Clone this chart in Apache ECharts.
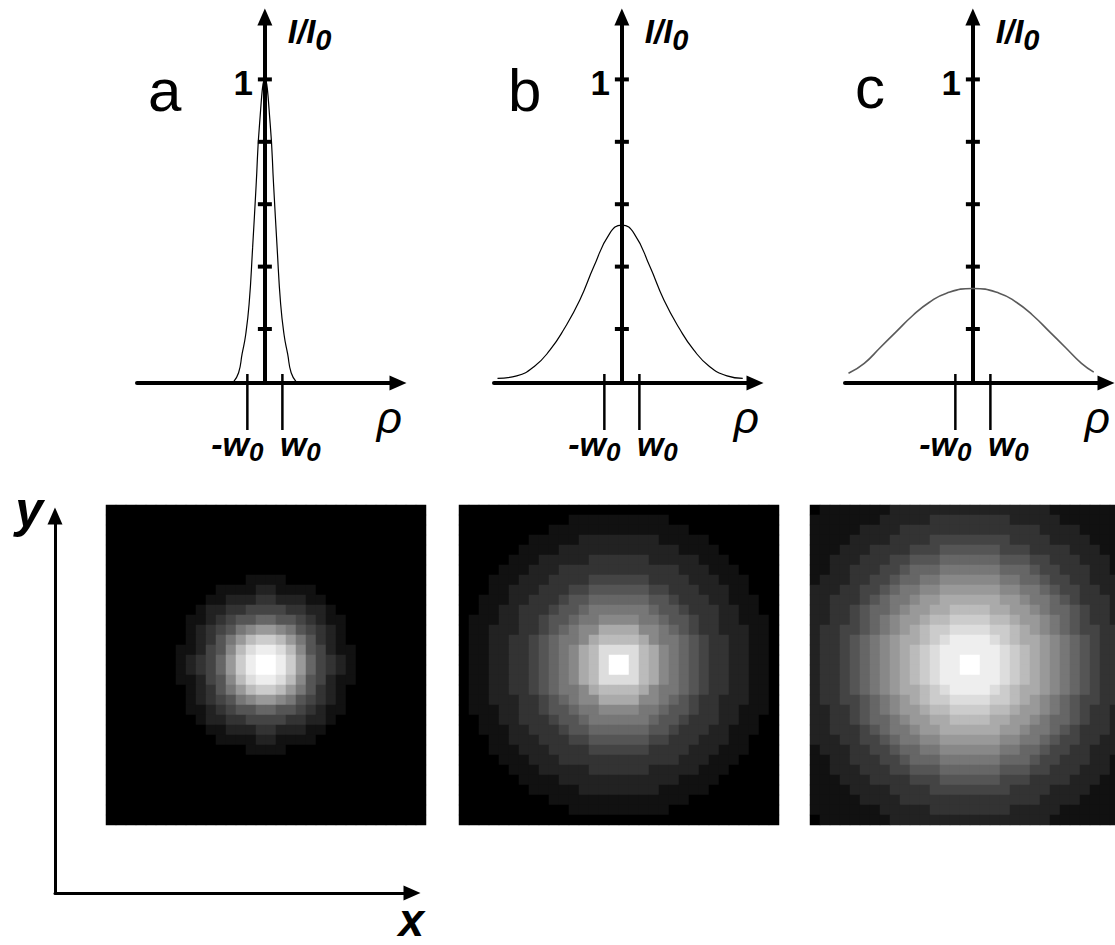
<!DOCTYPE html>
<html>
<head>
<meta charset="utf-8">
<script src="https://cdn.jsdelivr.net/npm/echarts@6/dist/echarts.min.js"></script>
<style>
  html, body { margin: 0; padding: 0; background: #fff; }
  #chart { width: 1115px; height: 945px; }
</style>
</head>
<body>
<div id="chart"></div>
<script>
// radial intensity profiles, rho in units of w0, intensity as I/I0
const rhoA = [-1.8, -1.5, -1.3, -1.1, -0.9, -0.7, -0.5, -0.3, 0, 0.3, 0.5, 0.7, 0.9, 1.1, 1.3, 1.5, 1.8]
const intensityA = [0.03, 0.06, 0.12, 0.18, 0.28, 0.46, 0.66, 0.86, 1.0, 0.86, 0.66, 0.46, 0.28, 0.18, 0.12, 0.06, 0.03]
const rhoB = [-7.1, -6, -5, -4.1, -3.3, -2.4, -1.6, -0.7, 0, 0.7, 1.6, 2.4, 3.3, 4.1, 5, 6, 6.9]
const intensityB = [0.042, 0.05, 0.08, 0.133, 0.2, 0.293, 0.4, 0.506, 0.533, 0.506, 0.4, 0.293, 0.2, 0.133, 0.08, 0.05, 0.042]
const rhoC = [-7.1, -6.2, -5.3, -4.4, -3.4, -2.5, -1.5, 0, 1.5, 2.5, 3.4, 4.4, 5.3, 6.2, 6.9]
const intensityC = [0.058, 0.09, 0.14, 0.19, 0.245, 0.285, 0.315, 0.33, 0.315, 0.285, 0.245, 0.19, 0.14, 0.09, 0.062]

const intensityTicks = [0.2, 0.4, 0.6, 0.8, 1]
const waistMarks = [-1, 1]
const panelLetters = ['a', 'b', 'c']

// camera frames, 32x32 cells, grey level 0..f per cell
const spotA = [
  '00000000000000000000000000000000',
  '00000000000000000000000000000000',
  '00000000000000000000000000000000',
  '00000000000000000000000000000000',
  '00000000000000000000000000000000',
  '00000000000000000000000000000000',
  '00000000000000000000000000000000',
  '00000000000000111100000000000000',
  '00000000000111122111100000000000',
  '00000000001122233222110000000000',
  '00000000012233444433221000000000',
  '00000000112345566554321100000000',
  '00000000123457899875432100000000',
  '00000000123579bccb97532100000000',
  '0000000112458bdeedb8542110000000',
  '0000000123469ceffec9643210000000',
  '0000000123469ceffec9643210000000',
  '0000000112458bdeedb8542110000000',
  '00000000123579bccb97532100000000',
  '00000000123457899875432100000000',
  '00000000112345566554321100000000',
  '00000000012233444433221000000000',
  '00000000001122233222110000000000',
  '00000000000111122111100000000000',
  '00000000000000111100000000000000',
  '00000000000000000000000000000000',
  '00000000000000000000000000000000',
  '00000000000000000000000000000000',
  '00000000000000000000000000000000',
  '00000000000000000000000000000000',
  '00000000000000000000000000000000',
  '00000000000000000000000000000000',
]
const spotB = [
  '00000000000000000000000000000000',
  '00000000000111111111100000000000',
  '00000000011111111111111000000000',
  '00000001111122222222111110000000',
  '00000011112222222222221111000000',
  '00000111222223333332222211100000',
  '00001112223333333333332221110000',
  '00011122233334444443333222111000',
  '00011222333445555554433322211000',
  '00111223334556666665543332211100',
  '00112233345567777776554333221100',
  '01112233455677888877655433221110',
  '01122233456788aaaa88765433222110',
  '0112233456778abbbba8776543322110',
  '011223345678abddddba876543322110',
  '011223345678abdffdba876543322110',
  '011223345678abdffdba876543322110',
  '011223345678abddddba876543322110',
  '0112233456778abbbba8776543322110',
  '01122233456788aaaa88765433222110',
  '01112233455677888877655433221110',
  '00112233345567777776554333221100',
  '00111223334556666665543332211100',
  '00011222333445555554433322211000',
  '00011122233334444443333222111000',
  '00001112223333333333332221110000',
  '00000111222223333332222211100000',
  '00000011112222222222221111000000',
  '00000001111122222222111110000000',
  '00000000011111111111111000000000',
  '00000000000111111111100000000000',
  '00000000000000000000000000000000',
]
const spotC = [
  '01111111222222222222222211111110',
  '11111112222233333333222221111111',
  '11111222233333333333333222211111',
  '11112222333344444444333322221111',
  '11122233334445555554443333222111',
  '11222333445556666665554433322211',
  '11223334456667777776665443332211',
  '12223344566778888887766544332221',
  '22233445677889999998877654433222',
  '2233345677899aaaaaa9987765433322',
  '223345667899aabbbbaa998766543322',
  '22334567899abbccccbba99876543322',
  '2334456789abccddddccba9876544332',
  '233456789aabcdeeeedcbaa987654332',
  '233456789abcdeeeeeedcba987654332',
  '233456789abcdeeffeedcba987654332',
  '233456789abcdeeffeedcba987654332',
  '233456789abcdeeeeeedcba987654332',
  '233456789aabcdeeeedcbaa987654332',
  '2334456789abccddddccba9876544332',
  '22334567899abbccccbba99876543322',
  '223345667899aabbbbaa998766543322',
  '2233345677899aaaaaa9987765433322',
  '22233445677889999998877654433222',
  '12223344566778888887766544332221',
  '11223334456667777776665443332211',
  '11222333445556666665554433322211',
  '11122233334445555554443333222111',
  '11112222333344444444333322221111',
  '11111222233333333333333222211111',
  '11111112222233333333222221111111',
  '01111111222222222222222211111110',
]

const FONT = '"Liberation Sans", Arial, sans-serif'
const RHO_MIN = -7.3
const RHO_MAX = 7.6
const I_MIN = 0.027
const I_MAX = 1.2

const profiles = [
  { rho: rhoA, val: intensityA, color: '#000', width: 1.2 },
  { rho: rhoB, val: intensityB, color: '#000', width: 1.2 },
  { rho: rhoC, val: intensityC, color: '#5a5a5a', width: 1.6 },
]
const profileLeft = [137, 494, 845]
const spotLeft = [106, 459, 810]
const spots = [spotA, spotB, spotC]
const cells = Array.from({ length: 32 }, (_, i) => i)

const arrowLine = width => ({
  show: true,
  symbol: ['none', 'triangle'],
  symbolSize: [15, 17],
  lineStyle: { color: '#000', width },
})

const boldItalic = size => ({ fontFamily: FONT, fontSize: size, fontWeight: 'bold', fontStyle: 'italic', color: '#000' })

const grid = []
const xAxis = []
const yAxis = []
const series = []

profiles.forEach((p, k) => {
  grid.push({ left: profileLeft[k], top: 17, width: 261, height: 366, containLabel: false, outerBoundsMode: 'none' })
  xAxis.push({
    gridIndex: k,
    type: 'value',
    min: RHO_MIN,
    max: RHO_MAX,
    axisLine: { ...arrowLine(4), onZero: false },
    axisTick: { show: false },
    splitLine: { show: false },
    axisLabel: { show: false },
    name: 'ρ',
    nameLocation: 'end',
    nameGap: 4,
    nameMoveOverlap: false,
    nameTextStyle: { fontFamily: FONT, fontSize: 44, fontStyle: 'italic', color: '#000', align: 'right', verticalAlign: 'top', padding: [12, 0, 0, 0] },
  })
  yAxis.push({
    gridIndex: k,
    type: 'value',
    min: I_MIN,
    max: I_MAX,
    axisLine: arrowLine(4),
    axisTick: { show: false },
    splitLine: { show: false },
    axisLabel: { show: false },
    name: '{m|I/I}{s|0}',
    nameLocation: 'end',
    nameGap: 2,
    nameMoveOverlap: false,
    nameTextStyle: {
      align: 'left',
      verticalAlign: 'top',
      padding: [0, 0, 0, 23],
      rich: {
        m: { ...boldItalic(33), verticalAlign: 'top', lineHeight: 32 },
        s: { ...boldItalic(29), verticalAlign: 'top', lineHeight: 29, padding: [10, 0, 0, 0] },
      },
    },
  })
  series.push({
    type: 'line',
    xAxisIndex: k,
    yAxisIndex: k,
    data: p.rho.map((r, i) => [r, p.val[i]]),
    smooth: true,
    showSymbol: false,
    clip: false,
    silent: true,
    lineStyle: { color: p.color, width: p.width },
  })
  // tick marks across the intensity axis, "1" written at the top one
  series.push({
    type: 'scatter',
    xAxisIndex: k,
    yAxisIndex: k,
    data: intensityTicks.map(v => ({ value: [0, v], label: { show: v === 1 } })),
    symbol: 'rect',
    symbolSize: [14, 4],
    itemStyle: { color: '#000', opacity: 1 },
    label: {
      position: 'left',
      distance: 5,
      offset: [0, 3],
      formatter: q => String(q.value[1]),
      fontFamily: FONT,
      fontSize: 35,
      fontWeight: 'bold',
      color: '#000',
    },
    clip: false,
    silent: true,
  })
  // -w0 / w0 marks through the rho axis
  series.push({
    type: 'scatter',
    xAxisIndex: k,
    yAxisIndex: k,
    data: waistMarks.map(v => [v, I_MIN]),
    symbol: 'rect',
    symbolSize: [2.5, 56],
    symbolOffset: [0, 19],
    itemStyle: { color: '#000', opacity: 1 },
    label: {
      show: true,
      position: 'bottom',
      distance: -3,
      formatter: q => (q.value[0] < 0 ? '{m|-w}{ms|0}' : '{p|w}{s|0}'),
      rich: {
        m: { ...boldItalic(34), verticalAlign: 'top', lineHeight: 34 },
        ms: { ...boldItalic(26), verticalAlign: 'top', lineHeight: 26, padding: [12, 20, 0, 0] },
        p: { ...boldItalic(34), verticalAlign: 'top', lineHeight: 34, padding: [0, 0, 0, 36] },
        s: { ...boldItalic(26), verticalAlign: 'top', lineHeight: 26, padding: [12, 0, 0, 0] },
      },
    },
    clip: false,
    silent: true,
  })
})

spots.forEach((rows, k) => {
  const g = 3 + k
  grid.push({ left: spotLeft[k], top: 505, width: 320, height: 320, show: true, backgroundColor: '#000', borderWidth: 0, containLabel: false, outerBoundsMode: 'none' })
  xAxis.push({ gridIndex: g, type: 'category', data: cells, show: false })
  yAxis.push({ gridIndex: g, type: 'category', data: cells, inverse: true, show: false })
  series.push({
    type: 'heatmap',
    xAxisIndex: g,
    yAxisIndex: g,
    data: rows.flatMap((row, r) => row.split('').map((ch, c) => [c, r, parseInt(ch, 16)])),
    emphasis: { disabled: true },
    silent: true,
  })
})

// x / y frame of the camera images
grid.push({ left: 55, top: 516, width: 357, height: 377, containLabel: false, outerBoundsMode: 'none' })
xAxis.push({
  gridIndex: 6, type: 'value', min: 0, max: 1,
  axisLine: arrowLine(3), axisTick: { show: false }, axisLabel: { show: false }, splitLine: { show: false },
  name: 'x', nameLocation: 'end', nameGap: 12, nameMoveOverlap: false,
  nameTextStyle: { ...boldItalic(46), lineHeight: 36, align: 'right', verticalAlign: 'top', padding: [9, 0, 0, 0] },
})
yAxis.push({
  gridIndex: 6, type: 'value', min: 0, max: 1,
  axisLine: arrowLine(3), axisTick: { show: false }, axisLabel: { show: false }, splitLine: { show: false },
  name: 'y', nameLocation: 'end', nameGap: 31, nameMoveOverlap: false,
  nameTextStyle: { ...boldItalic(50), align: 'right', verticalAlign: 'top', padding: [0, 12, 0, 0] },
})

const letterLeft = [148, 508, 855]
const letterTop = [60, 60, 57]

const chart = echarts.init(document.getElementById('chart'), null, { renderer: 'svg' })
chart.setOption({
  animation: false,
  backgroundColor: '#fff',
  grid,
  xAxis,
  yAxis,
  series,
  visualMap: [{
    type: 'continuous',
    show: false,
    min: 0,
    max: 15,
    seriesIndex: [9, 10, 11],
    inRange: { color: ['#000000', '#ffffff'] },
  }],
  graphic: panelLetters.map((t, k) => ({
    type: 'text',
    left: letterLeft[k],
    top: letterTop[k],
    style: { text: t, font: `normal 60px ${FONT}`, fill: '#000' },
  })),
})
</script>
</body>
</html>
